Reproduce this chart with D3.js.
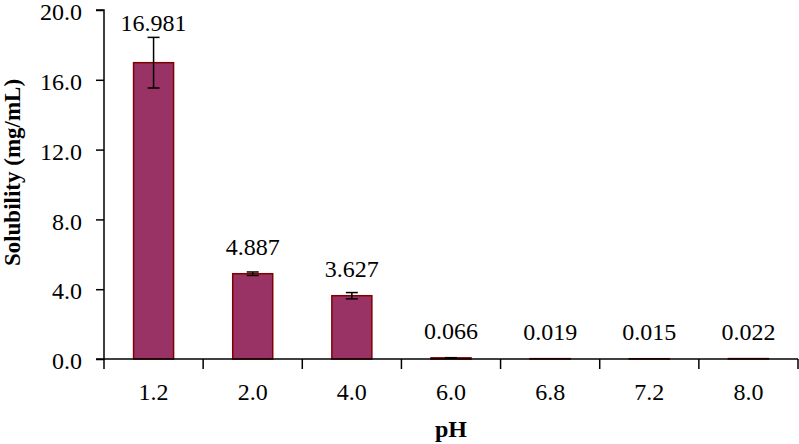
<!DOCTYPE html>
<html>
<head>
<meta charset="utf-8">
<script src="https://cdn.jsdelivr.net/npm/d3@7"></script>
<style>
  body { margin: 0; background: #fff; }
  text { font-family: "Liberation Serif", "Times New Roman", serif; }
</style>
</head>
<body>
<div id="chart"></div>
<script>
// Data
const phLabels = ["1.2", "2.0", "4.0", "6.0", "6.8", "7.2", "8.0"];
const solubility = [16.981, 4.887, 3.627, 0.066, 0.019, 0.015, 0.022];
const errors = [1.45, 0.1, 0.18, 0.01, 0.003, 0.003, 0.003];
const yTicks = [0, 4, 8, 12, 16, 20];

const W = 799, H = 444;
const margin = { top: 10, right: 1, bottom: 85, left: 104 };
const width = W - margin.left - margin.right;
const height = H - margin.top - margin.bottom;

const svg = d3.select("#chart").append("svg")
    .attr("width", W)
    .attr("height", H);

const g = svg.append("g")
    .attr("transform", `translate(${margin.left},${margin.top})`);

const xb = d3.scaleBand().domain(phLabels).range([0, width]);
const y = d3.scaleLinear().domain([0, 20]).range([height, 0]);
const barW = 40;

const data = phLabels.map((p, i) => ({ ph: p, v: solubility[i], e: errors[i] }));

// Bars
g.selectAll(".bar").data(data).enter()
    .append("rect")
    .attr("class", "bar")
    .attr("x", d => xb(d.ph) + (xb.bandwidth() - barW) / 2)
    .attr("width", barW)
    .attr("y", d => y(d.v))
    .attr("height", d => height - y(d.v))
    .attr("fill", "#993366")
    .attr("stroke", "#800000")
    .attr("stroke-width", 1.5);

// Error bars
const err = g.selectAll(".err").data(data.slice(0, 4)).enter().append("g").attr("class", "err")
    .attr("stroke", "#000").attr("stroke-width", 1.5);
err.append("line")
    .attr("x1", d => xb(d.ph) + xb.bandwidth() / 2)
    .attr("x2", d => xb(d.ph) + xb.bandwidth() / 2)
    .attr("y1", d => y(d.v + d.e))
    .attr("y2", d => y(d.v - d.e));
[1, -1].forEach(s => {
    err.append("line")
        .attr("x1", d => xb(d.ph) + xb.bandwidth() / 2 - 6)
        .attr("x2", d => xb(d.ph) + xb.bandwidth() / 2 + 6)
        .attr("y1", d => y(d.v + s * d.e))
        .attr("y2", d => y(d.v + s * d.e));
});

// Value labels
g.selectAll(".value-label").data(data).enter()
    .append("text")
    .attr("class", "value-label")
    .attr("x", d => xb(d.ph) + xb.bandwidth() / 2)
    .attr("y", d => Math.min(y(d.v) - 19, y(d.v + d.e) - 6))
    .attr("text-anchor", "middle")
    .style("font-size", "24px")
    .text(d => d.v.toFixed(3));

// Y axis
const yAxis = g.append("g")
    .call(d3.axisLeft(y).tickValues(yTicks).tickSize(8).tickPadding(14).tickFormat(d3.format(".1f")));
yAxis.select(".domain").attr("d", `M-8,0H0V${height}H-8`).attr("stroke-width", 1.5);
yAxis.selectAll(".tick line").attr("stroke-width", 1.5);
yAxis.selectAll(".tick text").attr("dy", "0.4em").style("font-size", "24px");

// X axis with ticks at band boundaries
const xAxis = g.append("g").attr("transform", `translate(0,${height})`);
xAxis.append("line").attr("x1", 0).attr("x2", width).attr("stroke", "#000").attr("stroke-width", 1.5);
xAxis.selectAll(".xtick").data(phLabels.concat(["end"])).enter()
    .append("line")
    .attr("x1", (d, i) => i < phLabels.length ? xb(d) : width)
    .attr("x2", (d, i) => i < phLabels.length ? xb(d) : width)
    .attr("y1", 0).attr("y2", 10)
    .attr("stroke", "#000").attr("stroke-width", 1.5);
xAxis.selectAll(".xlabel").data(phLabels).enter()
    .append("text")
    .attr("x", d => xb(d) + xb.bandwidth() / 2)
    .attr("y", 41)
    .attr("text-anchor", "middle")
    .style("font-size", "24px")
    .text(d => d);

// Axis titles
g.append("text")
    .attr("x", width / 2)
    .attr("y", height + 78)
    .attr("text-anchor", "middle")
    .style("font-size", "24px")
    .style("font-weight", "bold")
    .text("pH");

g.append("text")
    .attr("transform", `translate(${-margin.left + 20},${height / 2 - 12}) rotate(-90)`)
    .attr("text-anchor", "middle")
    .style("font-size", "23px")
    .style("font-weight", "bold")
    .text("Solubility (mg/mL)");
</script>
</body>
</html>
